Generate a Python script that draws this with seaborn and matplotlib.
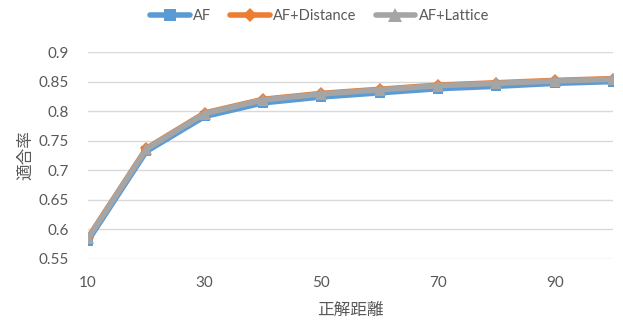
import matplotlib
matplotlib.use("Agg")
import matplotlib.pyplot as plt
import seaborn as sns
import pandas as pd

# 正解距離 (x) and 適合率 for each method
distances = [10, 20, 30, 40, 50, 60, 70, 80, 90, 100]
af = [0.581, 0.732, 0.791, 0.814, 0.824, 0.831, 0.838, 0.842, 0.847, 0.850]
af_distance = [0.586, 0.737, 0.797, 0.820, 0.830, 0.837, 0.844, 0.848, 0.852, 0.855]
af_lattice = [0.585, 0.736, 0.796, 0.819, 0.829, 0.836, 0.843, 0.847, 0.851, 0.854]

series_names = ["AF", "AF+Distance", "AF+Lattice"]
series_values = [af, af_distance, af_lattice]
colors = ["#5B9BD5", "#ED7D31", "#A5A5A5"]
markers = ["s", "D", "^"]
marker_sizes = [7.5, 6.0, 9.0]

x_ticks = [10, 30, 50, 70, 90]
y_ticks = [0.55, 0.6, 0.65, 0.7, 0.75, 0.8, 0.85, 0.9]

df = pd.DataFrame(
    [(d, v, name) for name, vals in zip(series_names, series_values)
     for d, v in zip(distances, vals)],
    columns=["distance", "rate", "method"],
)

sns.set_theme(style="white")
plt.rcParams["font.family"] = ["Lato", "Noto Sans CJK JP", "DejaVu Sans"]

text_color = "#595959"
cjk = ["Noto Sans CJK JP", "DejaVu Sans"]
fig = plt.figure(figsize=(6.23, 3.22), dpi=100)
ax = fig.add_axes([0.1413, 0.1957, 0.8427, 0.6428])

sns.lineplot(
    data=df, x="distance", y="rate", hue="method", style="method",
    hue_order=series_names, style_order=series_names,
    palette=dict(zip(series_names, colors)),
    markers=dict(zip(series_names, markers)), dashes=False,
    linewidth=4.0, markersize=7.5, markeredgewidth=0,
    ax=ax,
)
for line, ms in zip(ax.get_lines()[:3], marker_sizes):
    line.set_markersize(ms)

ax.set_xlim(10, 100)
ax.set_ylim(0.55, 0.9)
ax.set_xticks(x_ticks)
ax.set_xticklabels([str(t) for t in x_ticks])
ax.set_yticks(y_ticks)
ax.set_yticklabels([f"{t:g}" for t in y_ticks])
ax.grid(axis="y", color="#D9D9D9", linewidth=1.0)
ax.set_axisbelow(True)
for s in ax.spines.values():
    s.set_visible(False)
ax.tick_params(axis="both", length=0, labelsize=11, colors=text_color)
ax.tick_params(axis="x", pad=12)
ax.tick_params(axis="y", pad=14)

ax.set_xlabel("正解距離", fontsize=12, color=text_color, family=cjk, labelpad=9)
ax.set_ylabel("適合率", fontsize=12, color=text_color, family=cjk, labelpad=3)

handles, labels = ax.get_legend_handles_labels()
if ax.legend_:
    ax.legend_.remove()
leg = fig.legend(
    handles, labels, loc="center", bbox_to_anchor=(0.513, 0.95), ncol=3,
    frameon=False, fontsize=10.5, handlelength=2.7, handletextpad=0.25,
    columnspacing=1.3, labelcolor=text_color,
)
for h, ms in zip(leg.legend_handles, marker_sizes):
    h.set_linewidth(4)
    h.set_markersize(ms + 1)

fig.savefig("out.png", dpi=100)
